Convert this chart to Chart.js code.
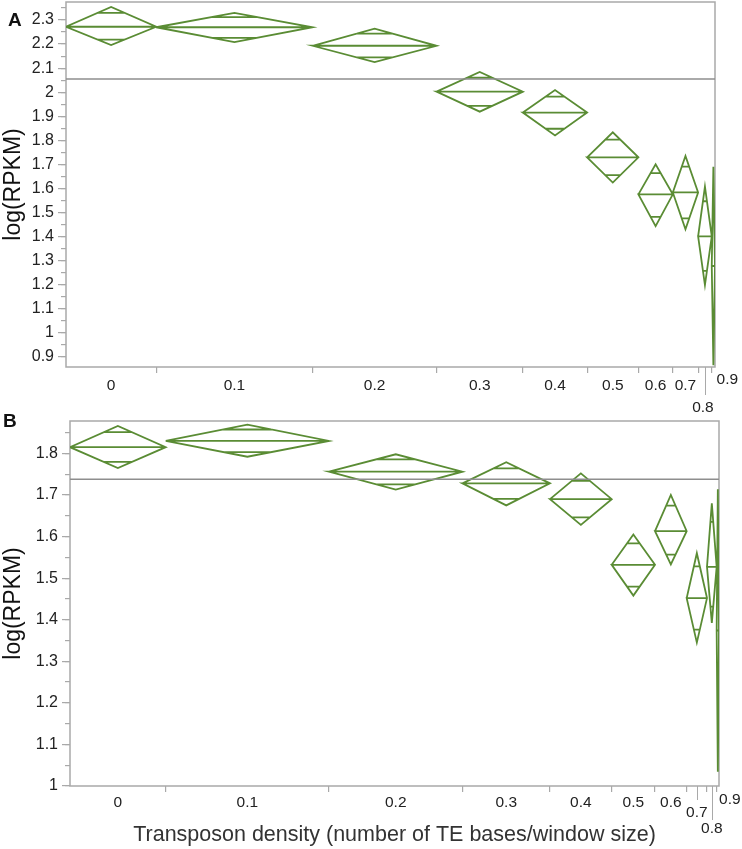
<!DOCTYPE html>
<html>
<head>
<meta charset="utf-8">
<script src="https://cdn.jsdelivr.net/npm/chart.js@4.4.1/dist/chart.umd.min.js"></script>
<style>
  body { margin: 0; background: #fff; }
  #wrap { position: relative; width: 742px; height: 849px; font-family: "Liberation Sans", Arial, sans-serif; }
  canvas { position: absolute; left: 0; }
  #chartA { top: 0; }
  #chartB { top: 400px; }
  .panel { position: absolute; font-weight: bold; font-size: 19px; color: #111; }
</style>
</head>
<body>
<div id="wrap">
  <canvas id="chartA"></canvas>
  <canvas id="chartB"></canvas>
  <div class="panel" style="left:8px;top:9px">A</div>
  <div class="panel" style="left:3px;top:410px">B</div>
</div>
<script>
// Transposon density groups (x categories)
const densityLabels = ["0", "0.1", "0.2", "0.3", "0.4", "0.5", "0.6", "0.7", "0.8", "0.9"];

// Panel A - share of windows per group (%), mean and 95% CI of log(RPKM)
const shareA = [13.9, 24.1, 19.1, 13.3, 9.9, 7.9, 5.3, 3.9, 2.1, 0.5];
const meanA  = [2.272, 2.270, 2.193, 2.002, 1.915, 1.729, 1.575, 1.583, 1.400, 1.277];
const upperA = [2.354, 2.330, 2.264, 2.084, 2.009, 1.833, 1.700, 1.735, 1.607, 1.690];
const lowerA = [2.196, 2.208, 2.125, 1.919, 1.820, 1.624, 1.443, 1.430, 1.198, 0.864];
const grandMeanA = 2.055;
const yTicksA = [0.9, 1, 1.1, 1.2, 1.3, 1.4, 1.5, 1.6, 1.7, 1.8, 1.9, 2, 2.1, 2.2, 2.3];

// Panel B
const shareB = [14.75, 25.16, 20.57, 13.48, 9.51, 6.67, 4.88, 3.13, 1.49, 0.36];
const meanB  = [1.815, 1.830, 1.756, 1.728, 1.690, 1.532, 1.613, 1.452, 1.527, 1.374];
const upperB = [1.866, 1.869, 1.798, 1.779, 1.752, 1.605, 1.700, 1.560, 1.680, 1.714];
const lowerB = [1.765, 1.792, 1.713, 1.675, 1.628, 1.458, 1.533, 1.345, 1.392, 1.034];
const grandMeanB = 1.738;
const yTicksB = [1, 1.1, 1.2, 1.3, 1.4, 1.5, 1.6, 1.7, 1.8];

const GREEN = '#5a8c34';
const AXIS = '#a9a9a9';
const FONT = '"Liberation Sans", Arial, sans-serif';

// build the means diamonds (outline, mean line, overlap marks) as one broken line
function diamondPoints(share, mean, lower, upper) {
  const pts = [];
  const k = 1 / Math.SQRT2;
  let left = 0;
  share.forEach((w, i) => {
    const right = left + w, mid = left + w / 2, m = mean[i];
    pts.push({x: left, y: m}, {x: mid, y: upper[i]}, {x: right, y: m},
             {x: mid, y: lower[i]}, {x: left, y: m}, {x: right, y: m}, {x: mid, y: null});
    const hw = (w / 2) * (1 - k);
    const hi = m + (upper[i] - m) * k, lo = m - (m - lower[i]) * k;
    pts.push({x: mid - hw, y: hi}, {x: mid + hw, y: hi}, {x: mid, y: null});
    pts.push({x: mid - hw, y: lo}, {x: mid + hw, y: lo}, {x: mid, y: null});
    left = right;
  });
  return pts;
}

function boundaries(share) {
  const b = [];
  let acc = 0;
  share.forEach(w => { acc += w; b.push(acc); });
  return b.slice(0, -1);
}

const framePlugin = {
  id: 'frame',
  beforeDatasetsDraw(chart) {
    const {ctx, chartArea: a} = chart;
    ctx.save();
    ctx.strokeStyle = AXIS;
    ctx.lineWidth = 1.5;
    ctx.strokeRect(a.left, a.top, a.right - a.left, a.bottom - a.top);
    ctx.restore();
  }
};

const xLabelPlugin = {
  id: 'xLabels',
  afterDraw(chart, args, o) {
    const {ctx, chartArea} = chart;
    const xs = chart.scales.x;
    ctx.save();
    ctx.font = '15.5px ' + FONT;
    ctx.fillStyle = '#222';
    ctx.textAlign = 'center';
    ctx.textBaseline = 'middle';
    ctx.strokeStyle = AXIS;
    ctx.lineWidth = 1;
    let left = 0;
    o.share.forEach((w, i) => {
      const cx = xs.getPixelForValue(left + w / 2);
      if (o.leader[i]) {
        ctx.beginPath();
        ctx.moveTo(Math.round(cx) + 0.5, chartArea.bottom);
        ctx.lineTo(Math.round(cx) + 0.5, chartArea.bottom + o.leader[i]);
        ctx.stroke();
      }
      ctx.fillText(densityLabels[i], cx + o.dx[i], chartArea.bottom + o.gap + o.dy[i]);
      left += w;
    });
    ctx.restore();
  }
};

function makeChart(id, cfg) {
  const canvas = document.getElementById(id);
  canvas.width = 742;
  canvas.height = cfg.height;
  const total = cfg.share.reduce((s, v) => s + v, 0);
  return new Chart(canvas, {
    type: 'scatter',
    data: {
      datasets: [
        {
          data: [{x: 0, y: cfg.grandMean}, {x: total, y: cfg.grandMean}],
          showLine: true, borderColor: '#8e8e8e', borderWidth: 1.5, pointRadius: 0
        },
        {
          data: diamondPoints(cfg.share, cfg.mean, cfg.lower, cfg.upper),
          showLine: true, spanGaps: false, borderColor: GREEN, borderWidth: 1.8,
          pointRadius: 0, tension: 0, borderJoinStyle: 'miter'
        }
      ]
    },
    options: {
      responsive: false,
      devicePixelRatio: 1,
      animation: false,
      events: [],
      layout: { padding: cfg.padding },
      plugins: { legend: { display: false }, tooltip: { enabled: false }, xLabels: cfg.labels },
      scales: {
        x: {
          type: 'linear', min: 0, max: total,
          afterBuildTicks: s => { s.ticks = boundaries(cfg.share).map(v => ({value: v})); },
          afterFit: s => { s.height = cfg.xHeight; s.paddingLeft = 0; s.paddingRight = 0; },
          ticks: { display: false },
          grid: { drawOnChartArea: false, tickLength: 6, color: AXIS, lineWidth: 1.2 },
          border: { display: false },
          title: {
            display: !!cfg.xTitle, text: cfg.xTitle, color: '#333', padding: 0,
            font: { family: FONT, size: 21.5 }
          }
        },
        y: {
          min: cfg.yMin, max: cfg.yMax, weight: 1,
          afterBuildTicks: s => { s.ticks = cfg.yTicks.map(v => ({value: v})); },
          afterFit: s => { s.width = cfg.yWidth; s.paddingTop = 0; s.paddingBottom = 0; },
          ticks: {
            padding: 4, color: '#222', font: { family: FONT, size: 16 },
            callback: v => String(Number(v.toFixed(1)))
          },
          grid: { drawOnChartArea: false, tickLength: 8, color: AXIS, lineWidth: 1.2 },
          border: { display: false },
          title: {
            display: true, text: 'log(RPKM)', color: '#111', padding: 0,
            font: { family: FONT, size: 23 }
          }
        },
        yMinor: {
          position: 'left', min: cfg.yMin, max: cfg.yMax, weight: 0,
          afterBuildTicks: s => {
            const t = [];
            for (let v = Math.ceil(cfg.yMin * 20) / 20; v <= cfg.yMax + 1e-9; v += 0.05) t.push({value: v});
            s.ticks = t;
          },
          afterFit: s => { s.width = 0; s.paddingTop = 0; s.paddingBottom = 0; },
          ticks: { display: false },
          grid: { drawOnChartArea: false, tickLength: 5, color: AXIS, lineWidth: 1.2 },
          border: { display: false }
        }
      }
    },
    plugins: [framePlugin, xLabelPlugin]
  });
}

makeChart('chartA', {
  height: 420,
  share: shareA, mean: meanA, lower: lowerA, upper: upperA, grandMean: grandMeanA,
  yMin: 0.857, yMax: 2.375, yTicks: yTicksA,
  yWidth: 66, xHeight: 53,
  padding: { top: 2, right: 27, left: 0, bottom: 0 },
  labels: {
    share: shareA, gap: 19,
    dx: [0, 0, 0, 0, 0, 0, 0, 0, -2, 14],
    dy: [0, 0, 0, 0, 0, 0, 0, 0, 22, -6],
    leader: [0, 0, 0, 0, 0, 0, 0, 0, 28, 0]
  }
});

makeChart('chartB', {
  height: 449,
  share: shareB, mean: meanB, lower: lowerB, upper: upperB, grandMean: grandMeanB,
  yMin: 1.0, yMax: 1.878, yTicks: yTicksB,
  yWidth: 70, xHeight: 62,
  padding: { top: 21, right: 23, left: 0, bottom: 1 },
  xTitle: 'Transposon density (number of TE bases/window size)',
  labels: {
    share: shareB, gap: 17,
    dx: [0, 0, 0, 0, 0, 0, 0, 0, 0, 12],
    dy: [0, 0, 0, 0, 0, 0, 0, 10, 26, -3],
    leader: [0, 0, 0, 0, 0, 0, 0, 14, 34, 0]
  }
});
</script>
</body>
</html>
